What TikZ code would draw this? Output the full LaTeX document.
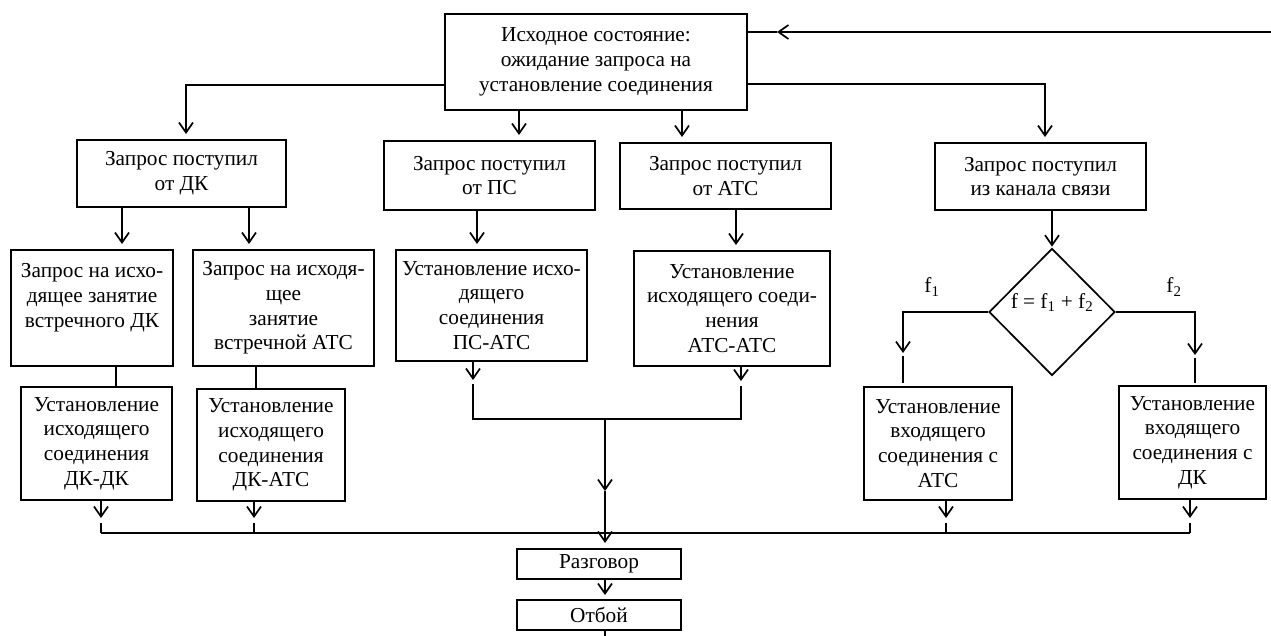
\documentclass[tikz,border=0pt]{standalone}
\usepackage{fontspec}
\setmainfont{Liberation Serif}
\usetikzlibrary{arrows.meta,shapes.geometric,calc}
\begin{document}
\begin{tikzpicture}[x=1pt,y=-1pt,
  txt/.style={font=\fontsize{21.3}{24.8}\selectfont},
  box/.style={draw,line width=2pt,inner sep=0pt,align=center,txt},
  conn/.style={line width=1.7pt},
  arr/.style={conn,-{Straight Barb[length=10pt,width=14pt]}},
  arrb/.style={arr,shorten >=5pt},
  lbl/.style={inner sep=0pt,txt}
]
\useasboundingbox (0,0) rectangle (1271,636);

% boxes
\node[box,minimum width=302pt,minimum height=96pt] (top) at (596,62)
  {Исходное состояние:\\ожидание запроса на\\установление соединения};
\node[box,minimum width=209pt,minimum height=67pt] (dk) at (181.5,173.5) {Запрос поступил\\от ДК};
\node[box,minimum width=211pt,minimum height=69pt] (ps) at (489.5,175.5) {Запрос поступил\\от ПС};
\node[box,minimum width=211pt,minimum height=66pt] (ats) at (725.5,176) {Запрос поступил\\от АТС};
\node[box,minimum width=211pt,minimum height=67pt] (ch) at (1040.5,176.5) {Запрос поступил\\из канала связи};

\node[box,minimum width=162pt,minimum height=116pt] (q1) at (92,308)
  {Запрос на исхо-\\дящее занятие\\встречного ДК\\\mbox{}};
\node[box,minimum width=181pt,minimum height=116pt] (q2) at (283.5,308)
  {Запрос на исходя-\\щее\\занятие\\встречной АТС};
\node[box,minimum width=191pt,minimum height=111pt] (psats) at (491.5,305.5)
  {Установление исхо-\\дящего\\соединения\\ПС-АТС};
\node[box,minimum width=196pt,minimum height=115pt] (atsats) at (732,308.5)
  {Установление\\исходящего соеди-\\нения\\АТС-АТС};
\node[draw,diamond,line width=1.7pt,inner sep=0pt,minimum width=126pt,minimum height=127pt,
  text depth=22pt,txt] (dia) at (1052,312) {f = f\textsubscript{1} + f\textsubscript{2}};

\node[box,minimum width=151pt,minimum height=113pt] (dkdk) at (96.5,443.5)
  {Установление\\исходящего\\соединения\\ДК-ДК};
\node[box,minimum width=148pt,minimum height=112pt] (dkats) at (271,445)
  {Установление\\исходящего\\соединения\\ДК-АТС};
\node[box,minimum width=148pt,minimum height=113pt] (inats) at (938,443.5)
  {Установление\\входящего\\соединения с\\АТС};
\node[box,minimum width=147pt,minimum height=113pt] (indk) at (1192.5,442.5)
  {Установление\\входящего\\соединения с\\ДК};
\node[box,minimum width=164pt,minimum height=30pt] (talk) at (599,564) {Разговор};
\node[box,minimum width=164pt,minimum height=30pt] (hang) at (599,615) {Отбой};

\node[lbl] (lf1) at (932,287) {f\textsubscript{1}};
\node[lbl] (lf2) at (1174,287) {f\textsubscript{2}};

% feedback
\coordinate (fbR) at (1271,32);
\coordinate (fbT) at (777,32);
\draw[arr] (fbR) -- (fbT);
\draw[conn] (fbT) -- (fbT -| top.east);

% from top box
\coordinate (tl) at ($(top.west)+(0,23)$);
\coordinate (tr) at ($(top.east)+(0,22)$);
\draw[arrb] (tl) -| (186,0 |- dk.north);
\draw[arrb] (519,0 |- top.south) -- (519,0 |- ps.north);
\draw[arrb] (682,0 |- top.south) -- (682,0 |- ats.north);
\draw[arrb] (tr) -| (1045,0 |- ch.north);

% second level
\draw[arrb] (122,0 |- dk.south) -- (122,0 |- q1.north);
\draw[arrb] (249,0 |- dk.south) -- (249,0 |- q2.north);
\draw[arrb] (477,0 |- ps.south) -- (477,0 |- psats.north);
\draw[arrb] (736,0 |- ats.south) -- (736,0 |- atsats.north);
\draw[arr,shorten >=1pt] (dia.north |- ch.south) -- (dia.north);
\draw[conn] (116,0 |- q1.south) -- (116,0 |- dkdk.north);
\draw[conn] (256,0 |- q2.south) -- (256,0 |- dkats.north);

% diamond branches
\coordinate (lbT) at (903,353);
\coordinate (lbS) at (903,356);
\coordinate (lbE) at (903,383);
\draw[arr] (dia.west) -| (lbT);
\draw[conn] (lbS) -- (lbE);
\coordinate (rbT) at (1195,355);
\coordinate (rbS) at (1195,358);
\coordinate (rbE) at (1195,383);
\draw[arr] (dia.east) -| (rbT);
\draw[conn] (rbS) -- (rbE);

% middle merge
\coordinate (mLT) at (473,380);
\coordinate (mLS) at (473,384);
\coordinate (mL) at (473,419);
\coordinate (mRT) at (741,381);
\coordinate (mRS) at (741,386);
\coordinate (mR) at (741,419);
\coordinate (mM) at (605,419);
\coordinate (mMT) at (605,491);
\draw[arr] (473,0 |- psats.south) -- (mLT);
\draw[arr] (741,0 |- atsats.south) -- (mRT);
\draw[conn] (mLS) -- (mL) -- (mR) -- (mRS);
\draw[arr] (mM) -- (mMT);
\draw[arrb] (mMT) -- (605,0 |- talk.north);

% bottom collector
\coordinate (bL) at (101,533);
\coordinate (bR) at (1190,533);
\draw[conn] (bL) -- (bR);
\foreach \x/\b in {101/dkdk,254/dkats,946/inats,1190/indk}{
  \draw[arr] (\x,0 |- \b.south) -- (\x,518);
  \draw[conn] (\x,523) -- (\x,533);
}

\draw[arrb,shorten >=4pt] (605,0 |- talk.south) -- (605,0 |- hang.north);
\coordinate (out) at (605,636);
\draw[conn] (605,0 |- hang.south) -- (out);
\end{tikzpicture}
\end{document}
